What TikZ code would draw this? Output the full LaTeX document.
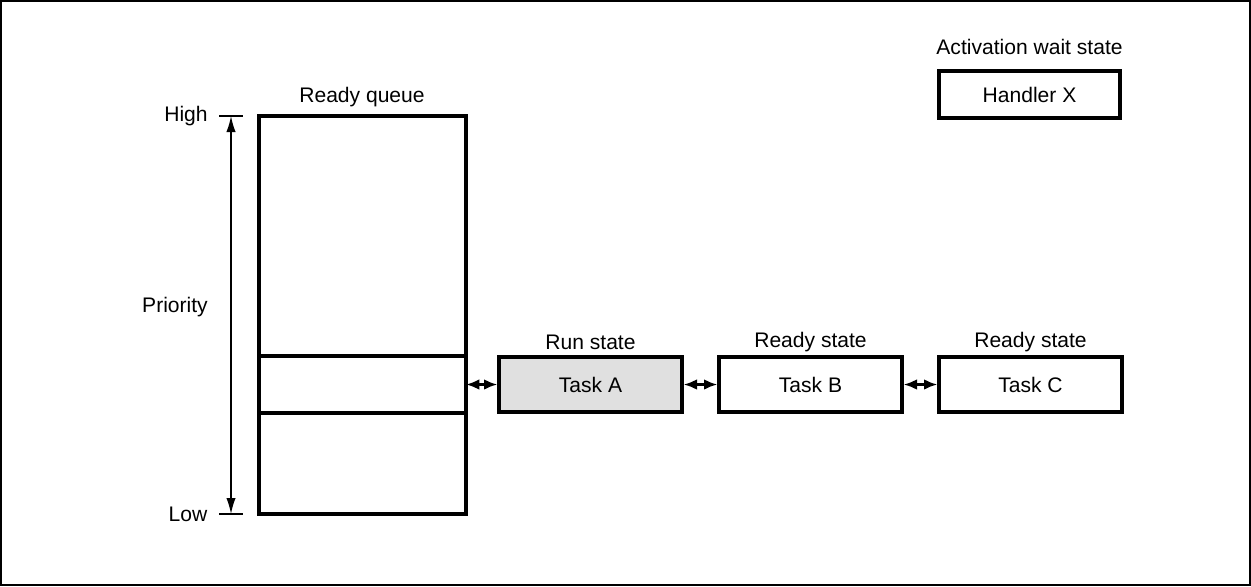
\documentclass[tikz,border=0pt]{standalone}
\usepackage{fontspec}
\setmainfont{Liberation Sans}
\usetikzlibrary{arrows.meta}
\begin{document}
\begin{tikzpicture}[x=0.75pt,y=-0.75pt,
  box/.style={draw,line width=2.5pt,minimum width=183*0.75pt,minimum height=55*0.75pt,inner sep=0pt,font=\fontsize{15.8}{18}\selectfont},
  lbl/.style={font=\fontsize{15.8}{18}\selectfont,inner sep=0pt},
  link/.style={line width=1.8pt,{Latex[length=10pt,width=8pt]}-{Latex[length=10pt,width=8pt]}},
  tick/.style={line width=1.1pt}]
% outer frame
\draw[line width=1.3pt] (1,1) rectangle (1250,585);
\useasboundingbox (0,0) rectangle (1251,586);
% ready queue
\draw[line width=2.5pt] (259,116) rectangle (466,514);
\draw[line width=2.5pt] (259,356) -- (466,356);
\draw[line width=2.5pt] (259,413) -- (466,413);
\coordinate (qslot) at (466,384.5);
\node[lbl] (rq) at (362,97) {Ready queue};
% priority axis
\coordinate (hi) at (231,116);
\coordinate (lo) at (231,514);
\draw[tick] (219,116) -- (243,116);
\draw[tick] (219,514) -- (243,514);
\draw[line width=1.1pt,{Latex[length=12pt,width=7pt]}-{Latex[length=12pt,width=7pt]}] (hi) -- (lo);
\node[lbl] (high) at (186,116) {High};
\node[lbl] (low) at (188,514) {Low};
\node[lbl] (prio) at (175,307) {Priority};
% tasks
\node[box,fill=black!12] (ta) at (590.5,384.5) {Task A};
\node[box] (tb) at (810.5,384.5) {Task B};
\node[box] (tc) at (1030.5,384.5) {Task C};
\node[lbl] (sa) at (590.5,342) {Run state};
\node[lbl] (sb) at (810.5,342) {Ready state};
\node[lbl] (sc) at (1030.5,342) {Ready state};
\node[box,minimum width=181*0.75pt,minimum height=47*0.75pt] (hx) at (1029.5,94.5) {Handler X};
\node[lbl] (sx) at (1029.5,47) {Activation wait state};
% links
\draw[link] (qslot) -- (ta.west);
\draw[link] (ta.east) -- (tb.west);
\draw[link] (tb.east) -- (tc.west);
\end{tikzpicture}
\end{document}
